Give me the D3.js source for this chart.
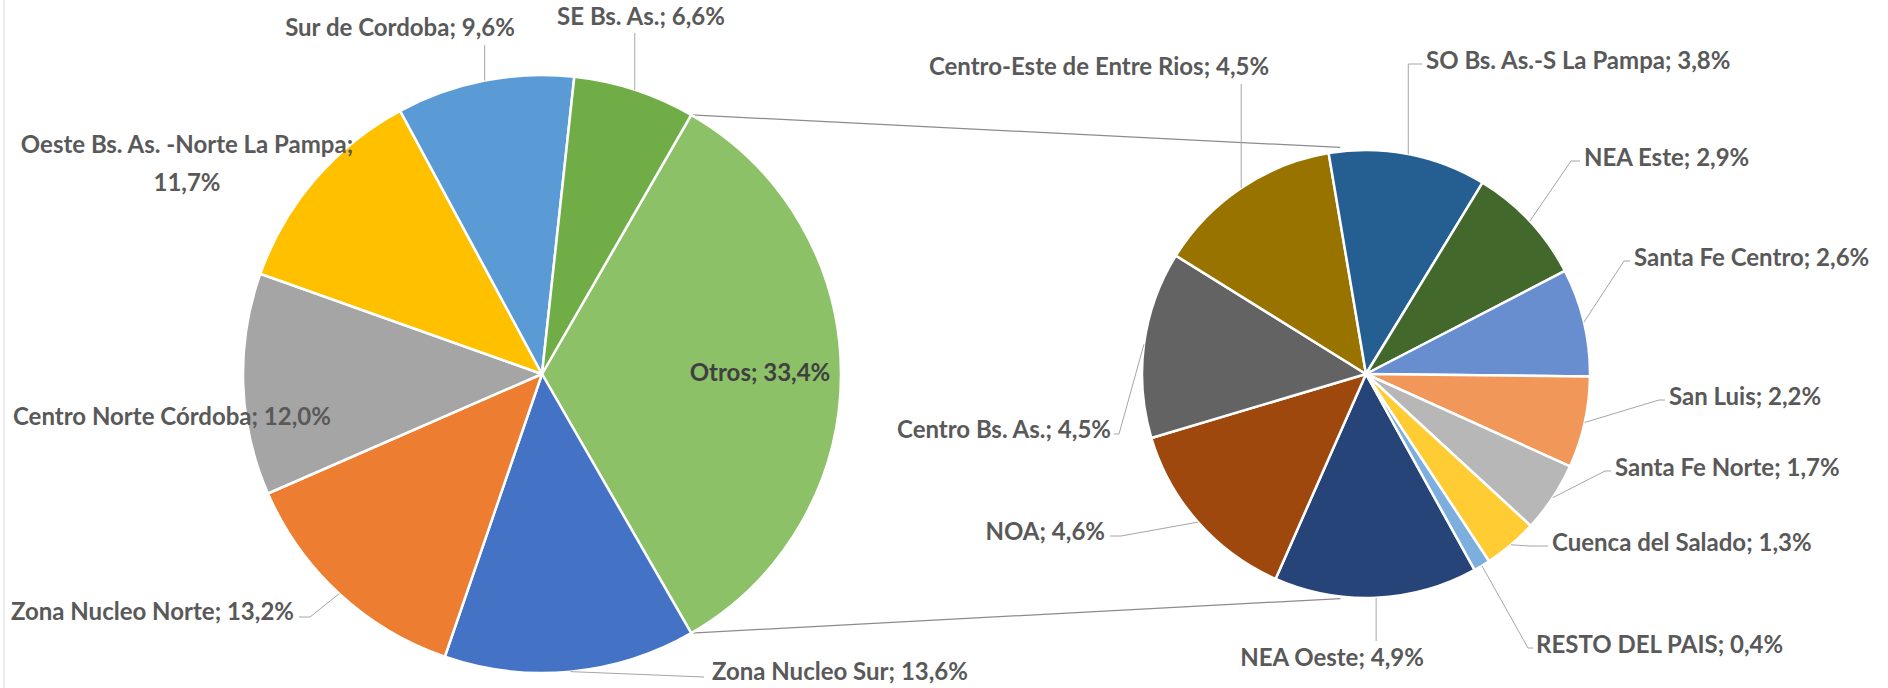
<!DOCTYPE html>
<html>
<head>
<meta charset="utf-8">
<script src="https://cdn.jsdelivr.net/npm/d3@7"></script>
<style>
  html, body { margin: 0; padding: 0; background: #ffffff; }
  svg { display: block; }
</style>
</head>
<body>
<svg id="chart" width="1888" height="688"></svg>
<script>
// ---------- DATA ----------
const mainNames = ["Zona Nucleo Sur", "Zona Nucleo Norte", "Centro Norte Córdoba",
  "Oeste Bs. As. -Norte La Pampa", "Sur de Cordoba", "SE Bs. As."];
const mainValues = [13.6, 13.2, 12.0, 11.7, 9.6, 6.6];
const otherName = "Otros";
const otherValue = 33.4;
const secNames = ["NEA Oeste", "NOA", "Centro Bs. As.", "Centro-Este de Entre Rios",
  "SO Bs. As.-S La Pampa", "NEA Este", "Santa Fe Centro", "San Luis",
  "Santa Fe Norte", "Cuenca del Salado", "RESTO DEL PAIS"];
const secValues = [4.9, 4.6, 4.5, 4.5, 3.8, 2.9, 2.6, 2.2, 1.7, 1.3, 0.4];

// ---------- STYLE / LAYOUT ----------
const mainColors = ["#4472C4", "#ED7D31", "#A5A5A5", "#FFC000", "#5B9BD5", "#70AD47"];
const otherColor = "#8CC168";
const secColors = ["#264478", "#9E480E", "#636363", "#997300", "#255E91", "#43682B",
  "#698ED0", "#F1975A", "#B7B7B7", "#FFCD33", "#7CAFDD"];

const main = { cx: 542, cy: 374, r: 299 };
const sec = { cx: 1366, cy: 374, r: 224, startDeg: 151 };
const font = "Lato, 'Open Sans', sans-serif";
const fontSize = 24;
const textColor = "#595959";
const leaderColor = "#A6A6A6";

// label placement: x, baseline y, anchor, leader elbow points (null = keep previous coord)
const labelLayout = {
  "Zona Nucleo Sur": { x: 712, y: 680, anchor: "start", leader: [[704, 677]] },
  "Zona Nucleo Norte": { x: 294, y: 620, anchor: "end", leader: [[310, 617], [299, 617]] },
  "Centro Norte Córdoba": { x: 13, y: 425, anchor: "start", leader: null },
  "Oeste Bs. As. -Norte La Pampa": { x: 187, y: 153, anchor: "middle", leader: null, wrap: true },
  "Sur de Cordoba": { x: 400, y: 36, anchor: "middle", leader: [[null, 45]] },
  "SE Bs. As.": { x: 641, y: 25, anchor: "middle", leader: [[null, 33]] },
  "Otros": { x: 760, y: 381, anchor: "middle", leader: null, inside: true },
  "NEA Oeste": { x: 1332, y: 666, anchor: "middle", leader: [[null, 641]] },
  "NOA": { x: 1105, y: 540, anchor: "end", leader: [[1121, 536], [1110, 536]] },
  "Centro Bs. As.": { x: 1111, y: 438, anchor: "end", leader: [[1119, 434], [1114, 434]] },
  "Centro-Este de Entre Rios": { x: 1099, y: 75, anchor: "middle", leader: [[null, 84]] },
  "SO Bs. As.-S La Pampa": { x: 1426, y: 69, anchor: "start", leader: [[null, 64], [1422, 64]] },
  "NEA Este": { x: 1584, y: 166, anchor: "start", leader: [[1571, 161], [1580, 161]] },
  "Santa Fe Centro": { x: 1634, y: 266, anchor: "start", leader: [[1624, 261], [1630, 261]] },
  "San Luis": { x: 1669, y: 405, anchor: "start", leader: [[1659, 400], [1665, 400]] },
  "Santa Fe Norte": { x: 1615, y: 476, anchor: "start", leader: [[1605, 471], [1611, 471]] },
  "Cuenca del Salado": { x: 1552, y: 551, anchor: "start", leader: [[1530, 546], [1548, 546]] },
  "RESTO DEL PAIS": { x: 1536, y: 653, anchor: "start", leader: [[1528, 648], [1533, 648]] }
};

// ---------- DRAW ----------
const svg = d3.select("#chart");
svg.append("rect").attr("width", 1888).attr("height", 688).attr("fill", "#fff");
// chart border (left edge visible)
svg.append("line").attr("x1", 4).attr("x2", 4).attr("y1", 0).attr("y2", 688)
  .attr("stroke", "#D9D9D9").attr("stroke-width", 1);

const fmt = v => v.toFixed(1).replace(".", ",") + "%";

const mainData = [{ name: otherName, value: otherValue, color: otherColor }]
  .concat(mainNames.map((n, i) => ({ name: n, value: mainValues[i], color: mainColors[i] })));
const secData = secNames.map((n, i) => ({ name: n, value: secValues[i], color: secColors[i] }));

const mainTotal = d3.sum(mainData, d => d.value);
const otherAngle = 2 * Math.PI * otherValue / mainTotal;
const mainStart = Math.PI / 2 - otherAngle / 2;

const mainArcs = d3.pie().sort(null).value(d => d.value)
  .startAngle(mainStart).endAngle(mainStart + 2 * Math.PI)(mainData);
const secStart = sec.startDeg * Math.PI / 180;
const secArcs = d3.pie().sort(null).value(d => d.value)
  .startAngle(secStart).endAngle(secStart + 2 * Math.PI)(secData);

const pt = (p, a, rr) => [p.cx + rr * Math.sin(a), p.cy - rr * Math.cos(a)];

// connector (series) lines
const otherArc = mainArcs[0];
const topEnd = pt(sec, -6.5 * Math.PI / 180, sec.r + 4);
const botEnd = pt(sec, 186.5 * Math.PI / 180, sec.r + 2);
const line = d3.line();
svg.append("path").attr("d", line([pt(main, otherArc.startAngle, main.r), topEnd]))
  .attr("fill", "none").attr("stroke", "#8C8C8C").attr("stroke-width", 1.2);
svg.append("path").attr("d", line([pt(main, otherArc.endAngle, main.r), botEnd]))
  .attr("fill", "none").attr("stroke", "#8C8C8C").attr("stroke-width", 1.2);

function drawPie(p, arcs) {
  const arc = d3.arc().innerRadius(0).outerRadius(p.r);
  const g = svg.append("g").attr("transform", `translate(${p.cx},${p.cy})`);
  g.selectAll("path").data(arcs).join("path")
    .attr("d", arc)
    .attr("fill", d => d.data.color)
    .attr("stroke", "#fff")
    .attr("stroke-width", 2.5)
    .attr("stroke-linejoin", "round");
}
drawPie(main, mainArcs);
drawPie(sec, secArcs);

function drawLabels(p, arcs) {
  arcs.forEach(d => {
    const L = labelLayout[d.data.name];
    if (!L) return;
    const mid = (d.startAngle + d.endAngle) / 2;
    if (L.leader) {
      let pts = [pt(p, mid, p.r)];
      L.leader.forEach(q => {
        const prev = pts[pts.length - 1];
        pts.push([q[0] == null ? prev[0] : q[0], q[1] == null ? prev[1] : q[1]]);
      });
      svg.append("path").attr("d", line(pts)).attr("fill", "none")
        .attr("stroke", leaderColor).attr("stroke-width", 1);
    }
    const t = svg.append("text")
      .attr("x", L.x).attr("y", L.y)
      .attr("text-anchor", L.anchor)
      .attr("font-family", font).attr("font-weight", 700)
      .attr("font-size", fontSize)
      .attr("fill", L.inside ? "#404040" : textColor);
    if (L.wrap) {
      t.append("tspan").attr("x", L.x).attr("dy", 0).text(d.data.name + ";");
      t.append("tspan").attr("x", L.x).attr("dy", 38).text(fmt(d.data.value));
    } else {
      t.text(d.data.name + "; " + fmt(d.data.value));
    }
  });
}
drawLabels(main, mainArcs);
drawLabels(sec, secArcs);
</script>
</body>
</html>
